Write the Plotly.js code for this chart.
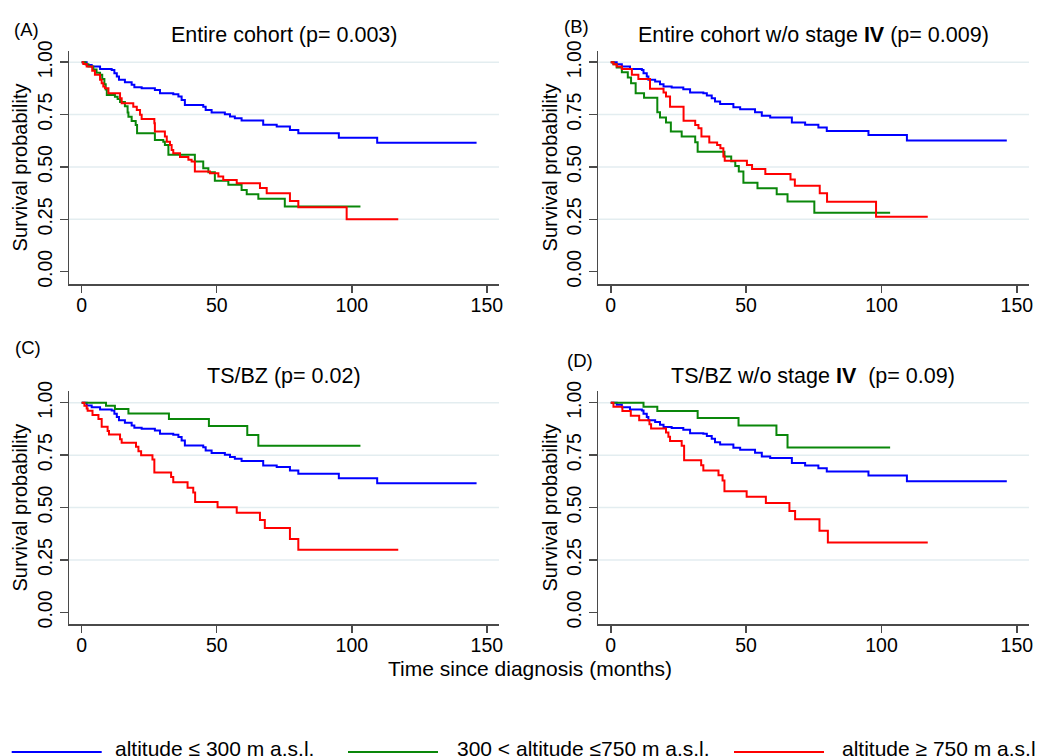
<!DOCTYPE html>
<html>
<head>
<meta charset="utf-8">
<script src="https://cdn.plot.ly/plotly-3.0.1.min.js"></script>
<style>html,body{margin:0;padding:0;background:#fff;}#chart{width:1037px;height:756px;}</style>
</head>
<body>
<div id="chart"></div>
<script>
// ---------------- DATA ----------------
const seriesNames = ["altitude \u2264 300 m a.s.l.", "300 < altitude \u2264750 m a.s.l.", "altitude \u2265 750 m a.s.l."];
const panelTitles = ["Entire cohort (p= 0.003)", "Entire cohort w/o stage <b>IV</b> (p= 0.009)", "TS/BZ (p= 0.02)", "TS/BZ w/o stage <b>IV</b>  (p= 0.09)"];
const panelLetters = ["(A)", "(B)", "(C)", "(D)"];
const xTitle = "Time since diagnosis (months)";
const yTitle = "Survival probability";
const gridValues = [0.25, 0.5, 0.75, 1.0];

// Panel A – entire cohort
const A_low_t  = [0,1.85,3.7,6.8,11.1,12.1,13.0,13.8,16.0,18.5,19.5,22.2,27.1,29.0,33.9,35.8,37.0,38.2,45.0,45.9,48.1,53.0,54.9,56.7,59.2,67.2,72.2,77.1,80.2,95.2,109.4,146.2];
const A_low_s  = [1,0.987,0.979,0.968,0.963,0.947,0.932,0.916,0.905,0.892,0.881,0.876,0.868,0.852,0.847,0.836,0.820,0.796,0.788,0.772,0.760,0.752,0.741,0.733,0.722,0.701,0.693,0.677,0.661,0.640,0.616,0.616];
const A_mid_t  = [0,1.4,2.5,4.3,5.5,6.8,7.6,8.4,8.9,9.3,12.3,13.3,14.2,16.0,17.0,17.3,18.5,20.0,20.5,27.1,30.2,30.8,32.1,41.9,45.0,46.9,49.3,54.3,59.2,61.1,65.4,75.2,103.2];
const A_mid_s  = [1,0.99,0.98,0.965,0.95,0.94,0.92,0.895,0.87,0.844,0.835,0.825,0.81,0.79,0.76,0.74,0.72,0.70,0.661,0.629,0.621,0.605,0.558,0.526,0.494,0.475,0.434,0.415,0.39,0.37,0.348,0.311,0.311];
const A_high_t = [0,0.6,1.85,3.9,4.9,6.8,7.4,8.0,8.6,9.9,14.2,14.8,19.1,20.4,21.6,22.2,26.9,27.1,30.8,31.5,32.7,33.3,33.9,36.4,39.5,40.7,41.9,47.5,50.6,52.4,57.4,66.0,68.5,77.1,80.2,98.1,117.2];
const A_high_s = [1,0.992,0.979,0.959,0.94,0.916,0.90,0.884,0.876,0.852,0.828,0.804,0.788,0.772,0.749,0.729,0.709,0.669,0.645,0.621,0.605,0.581,0.565,0.548,0.534,0.526,0.478,0.47,0.454,0.438,0.422,0.40,0.375,0.338,0.308,0.25,0.25];

// Panel B – entire cohort without stage IV
const B_low_t  = [0,2.2,4.1,7.1,11.5,12.1,13.3,13.9,16.4,18.2,19.5,22.5,26.8,29.3,34.2,35.5,37.3,38.5,40.4,45.3,47.8,53.3,55.8,58.9,66.9,71.8,76.7,79.8,95.2,109.4,146.3];
const B_low_s  = [1,0.99,0.979,0.968,0.963,0.947,0.932,0.916,0.908,0.895,0.884,0.879,0.871,0.855,0.852,0.841,0.828,0.812,0.801,0.785,0.776,0.761,0.744,0.736,0.712,0.701,0.688,0.672,0.653,0.626,0.626];
const B_mid_t  = [0,1.0,2.2,4.1,6.3,7.5,9.2,12.3,17.2,18.2,20.4,22.2,26.2,31.2,32.1,42.0,44.5,46.0,47.3,49.0,54.2,61.3,65.3,75.2,103.2];
const B_mid_s  = [1,0.99,0.975,0.952,0.927,0.90,0.852,0.831,0.761,0.736,0.712,0.669,0.645,0.618,0.573,0.55,0.527,0.505,0.478,0.425,0.398,0.37,0.335,0.282,0.282];
const B_high_t = [0,1.0,2.2,4.1,7.8,10.2,14.5,19.5,20.4,21.9,26.9,31.2,32.4,33.5,36.4,39.3,40.5,41.6,42.1,50.3,52.2,57.1,66.4,68.0,77.2,79.9,98.0,117.1];
const B_high_s = [1,0.99,0.979,0.968,0.94,0.92,0.873,0.855,0.836,0.788,0.721,0.70,0.685,0.645,0.617,0.605,0.589,0.55,0.53,0.51,0.49,0.467,0.44,0.41,0.374,0.334,0.263,0.263];

// Panel C – TS/BZ
const C_low_t  = [0,1.85,3.7,6.8,11.1,12.1,13.0,13.8,16.0,18.5,19.5,22.2,27.1,29.0,33.9,35.8,37.0,38.2,45.0,45.9,48.1,53.0,54.9,56.7,59.2,67.2,72.2,77.1,80.2,95.2,109.4,146.2];
const C_low_s  = [1,0.987,0.979,0.968,0.963,0.947,0.932,0.916,0.905,0.892,0.881,0.876,0.868,0.852,0.847,0.836,0.820,0.796,0.788,0.772,0.760,0.752,0.741,0.733,0.722,0.701,0.693,0.677,0.661,0.640,0.616,0.616];
const C_mid_t  = [0,9.0,12.3,17.3,32.3,47.1,61.3,65.4,103.2];
const C_mid_s  = [1,0.986,0.97,0.949,0.922,0.889,0.846,0.795,0.795];
const C_high_t = [0,1.0,1.85,2.2,4.0,6.2,7.4,9.6,10.1,14.2,14.8,20.1,21.0,22.0,26.2,26.9,33.1,33.9,39.2,41.3,42.0,50.3,57.4,66.0,67.8,77.1,80.2,117.2];
const C_high_s = [1,0.986,0.973,0.962,0.941,0.922,0.885,0.865,0.849,0.826,0.809,0.79,0.769,0.75,0.729,0.667,0.646,0.621,0.594,0.572,0.527,0.502,0.475,0.44,0.402,0.35,0.299,0.299];

// Panel D – TS/BZ without stage IV
const D_low_t  = [0,2.2,4.1,7.1,11.5,12.1,13.3,13.9,16.4,18.2,19.5,22.5,26.8,29.3,34.2,35.5,37.3,38.5,40.4,45.3,47.8,53.3,55.8,58.9,66.9,71.8,76.7,79.8,95.2,109.4,146.3];
const D_low_s  = [1,0.99,0.979,0.968,0.963,0.947,0.932,0.916,0.908,0.895,0.884,0.879,0.871,0.855,0.852,0.841,0.828,0.812,0.801,0.785,0.776,0.761,0.744,0.736,0.712,0.701,0.688,0.672,0.653,0.626,0.626];
const D_mid_t  = [0,12.1,17.2,32.1,47.2,61.2,65.3,103.2];
const D_mid_s  = [1,0.981,0.96,0.927,0.891,0.846,0.787,0.787];
const D_high_t = [0,1.0,4.3,7.4,10.5,14.3,14.9,20.4,21.3,21.9,26.2,27.1,33.4,34.2,39.8,41.3,42.0,50.2,57.3,66.0,68.1,77.1,80.2,117.1];
const D_high_s = [1,0.981,0.96,0.938,0.917,0.897,0.877,0.858,0.838,0.817,0.795,0.726,0.702,0.677,0.654,0.629,0.578,0.551,0.522,0.484,0.444,0.389,0.333,0.333];

// ---------------- STYLE / LAYOUT ----------------
const W = 1037, H = 756;
const FONT = "'Liberation Sans', Arial, Helvetica, sans-serif";
const colors = ["#0000ff", "#0a870a", "#ff0000"];
const AXC = "#4a4a4a";
const px = v => v / W;
const py = v => 1 - v / H;

const panelData = [
  [[A_low_t, A_low_s], [A_mid_t, A_mid_s], [A_high_t, A_high_s]],
  [[B_low_t, B_low_s], [B_mid_t, B_mid_s], [B_high_t, B_high_s]],
  [[C_low_t, C_low_s], [C_mid_t, C_mid_s], [C_high_t, C_high_s]],
  [[D_low_t, D_low_s], [D_mid_t, D_mid_s], [D_high_t, D_high_s]]
];

// plot-area boxes in pixels [left, right, top, bottom]
const boxes = [
  [69, 499, 50.7, 284.3],
  [598.3, 1029, 50.7, 284.3],
  [69, 499, 391, 624.3],
  [598.3, 1029, 391, 624.3]
];
const xRanges = [[-4.7, 154.5], [-4.6, 154.5], [-4.7, 154.5], [-4.6, 154.5]];
const yRanges = [[-0.060, 1.055], [-0.060, 1.055], [-0.057, 1.056], [-0.057, 1.056]];
const titlePos = [[284, 35], [813.7, 35], [284, 376], [813, 376]];
const letterPos = [[12, 30], [562, 26], [13, 347], [565, 360]];

const traces = [];
const layout = {
  width: W, height: H,
  margin: {l: 0, r: 0, t: 0, b: 0},
  paper_bgcolor: "#fff", plot_bgcolor: "#fff",
  showlegend: false,
  font: {family: FONT, color: "#000"},
  shapes: [], annotations: []
};

panelData.forEach((series, i) => {
  const n = i + 1;
  const xa = "x" + (n === 1 ? "" : n), ya = "y" + (n === 1 ? "" : n);
  const xk = "xaxis" + (n === 1 ? "" : n), yk = "yaxis" + (n === 1 ? "" : n);
  const b = boxes[i];
  series.forEach((d, k) => {
    traces.push({
      type: "scatter", mode: "lines", x: d[0], y: d[1],
      xaxis: xa, yaxis: ya, name: seriesNames[k],
      line: {shape: "hv", color: colors[k], width: 2},
      hoverinfo: "skip"
    });
  });
  layout[xk] = {
    domain: [px(b[0]), px(b[1])], anchor: ya, range: xRanges[i],
    tick0: 0, dtick: 50, ticks: "outside", ticklen: 7, tickwidth: 1.5, tickcolor: AXC,
    showline: true, linecolor: AXC, linewidth: 1.5,
    showgrid: false, zeroline: false, ticklabelstandoff: -4,
    tickfont: {size: 19.5, family: FONT, color: "#000"}
  };
  layout[yk] = {
    domain: [py(b[3]), py(b[2])], anchor: xa, range: yRanges[i],
    tick0: 0, dtick: 0.25, tickformat: ".2f", tickangle: -90,
    ticks: "outside", ticklen: 8, tickwidth: 1.5, tickcolor: AXC,
    showline: true, linecolor: AXC, linewidth: 1.5,
    showgrid: false, zeroline: false,
    tickfont: {size: 19.5, family: FONT, color: "#000"},
    title: {text: yTitle, font: {size: 20, family: FONT, color: "#000"}, standoff: 0}
  };
  gridValues.forEach(g => {
    layout.shapes.push({
      type: "line", xref: xa + " domain", yref: ya, x0: 0, x1: 1, y0: g, y1: g,
      line: {color: "#e3edf0", width: 1.5}, layer: "below"
    });
  });
  layout.annotations.push({
    text: panelTitles[i], xref: "paper", yref: "paper",
    x: px(titlePos[i][0]), y: py(titlePos[i][1]), xanchor: "center", yanchor: "middle",
    showarrow: false, font: {size: 21.5, family: FONT, color: "#000"}
  });
  layout.annotations.push({
    text: panelLetters[i], xref: "paper", yref: "paper",
    x: px(letterPos[i][0]), y: py(letterPos[i][1]), xanchor: "left", yanchor: "middle",
    showarrow: false, font: {size: 18.5, family: FONT, color: "#000"}
  });
});

// common x-axis title
layout.annotations.push({
  text: xTitle, xref: "paper", yref: "paper", x: px(530), y: py(668),
  xanchor: "center", yanchor: "middle", showarrow: false,
  font: {size: 21, family: FONT, color: "#000"}
});

// legend row at the bottom (keys built from the series names/colours)
const legLine = [[11.7, 101.7], [348, 438], [734, 824]];
const legText = [113, 455, 840];
seriesNames.forEach((nm, k) => {
  layout.shapes.push({
    type: "line", xref: "paper", yref: "paper",
    x0: px(legLine[k][0]), x1: px(legLine[k][1]), y0: py(752), y1: py(752),
    line: {color: colors[k], width: 2}
  });
  layout.annotations.push({
    text: nm, xref: "paper", yref: "paper", x: px(legText[k]), y: py(748),
    xanchor: "left", yanchor: "middle", showarrow: false,
    font: {size: 21, family: FONT, color: "#000"}
  });
});

Plotly.newPlot("chart", traces, layout, {staticPlot: true, displayModeBar: false});
</script>
</body>
</html>
